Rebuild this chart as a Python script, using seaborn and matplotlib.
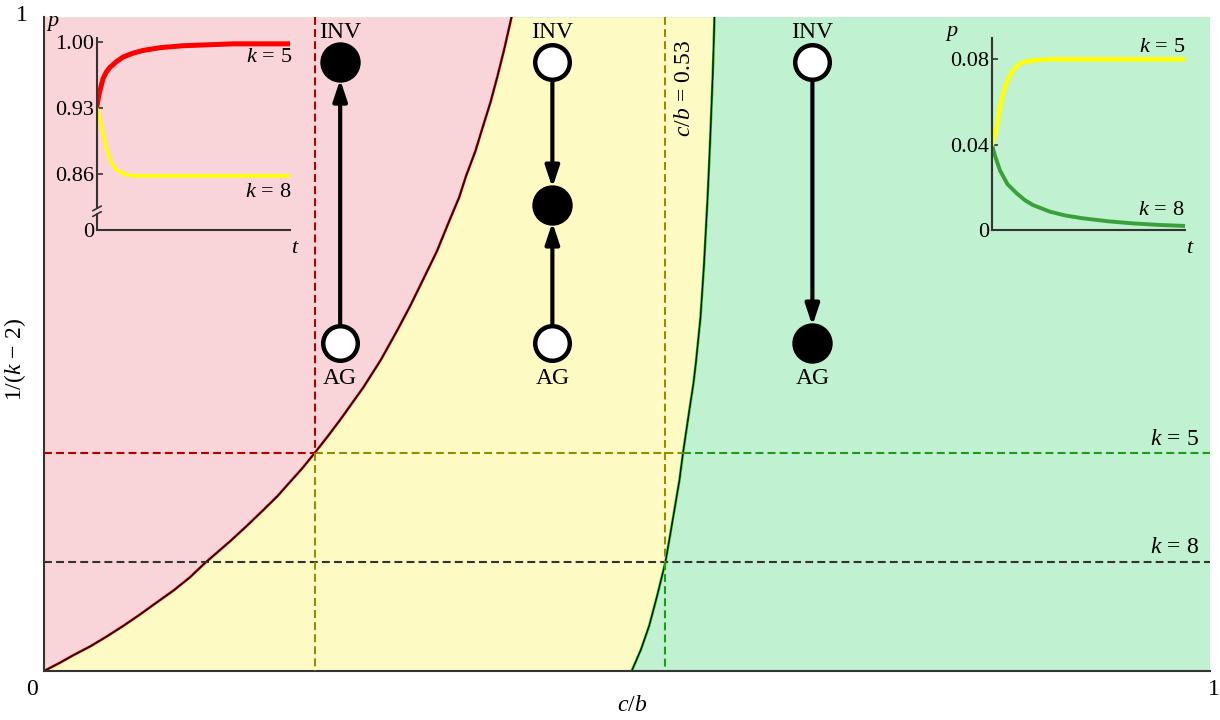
import matplotlib
matplotlib.use("Agg")
import matplotlib.pyplot as plt
import numpy as np
import pandas as pd
import seaborn as sns

# phase boundaries, c/b against 1/(k-2)
left_cb = [0.0, 0.013, 0.025, 0.040, 0.054, 0.068, 0.082, 0.096, 0.111, 0.125,
           0.138, 0.149, 0.160, 0.174, 0.188, 0.200, 0.211, 0.222, 0.232,
           0.243, 0.254, 0.264, 0.274, 0.289, 0.303, 0.314, 0.325, 0.337,
           0.348, 0.356, 0.362, 0.370, 0.376, 0.383, 0.389, 0.395, 0.401]
left_y = [0.0, 0.012, 0.024, 0.038, 0.053, 0.069, 0.086, 0.104, 0.123, 0.143,
          0.165, 0.182, 0.199, 0.222, 0.246, 0.267, 0.289, 0.311, 0.333,
          0.358, 0.384, 0.409, 0.434, 0.476, 0.521, 0.558, 0.598, 0.642,
          0.690, 0.724, 0.757, 0.795, 0.830, 0.870, 0.910, 0.953, 1.0]
right_cb = [0.504, 0.512, 0.519, 0.526, 0.533, 0.537, 0.541, 0.545, 0.548,
            0.551, 0.554, 0.557, 0.559, 0.561, 0.563, 0.5645, 0.566, 0.5675,
            0.569, 0.5703, 0.5715, 0.5725, 0.5735, 0.5743, 0.575]
right_y = [0.0, 0.033, 0.069, 0.116, 0.167, 0.208, 0.250, 0.292, 0.333,
           0.369, 0.405, 0.440, 0.470, 0.505, 0.540, 0.580, 0.620, 0.670,
           0.720, 0.770, 0.820, 0.865, 0.910, 0.955, 1.0]

group_sizes = [5, 8]

# sketch columns: c/b of each example, state heights
diagram_cb = [0.254, 0.436, 0.659]
state_inv, state_mid, state_ag = 0.931, 0.7125, 0.5015

# left inset (red region), p over t
t_red = [0.0, 0.008, 0.016, 0.031, 0.048, 0.067, 0.100, 0.135, 0.185, 0.238,
         0.330, 0.446, 0.575, 0.705, 0.85, 1.0]
p_red = [0.932, 0.942, 0.949, 0.961, 0.968, 0.973, 0.979, 0.984, 0.988, 0.991,
         0.994, 0.996, 0.997, 0.998, 0.998, 0.998]
t_yel8 = [0.0, 0.012, 0.024, 0.041, 0.055, 0.067, 0.085, 0.104, 0.130, 0.155,
          0.200, 0.275, 1.0]
p_yel8 = [0.930, 0.921, 0.910, 0.893, 0.883, 0.875, 0.868, 0.864, 0.861, 0.859,
          0.858, 0.858, 0.858]

# right inset (green region)
t_yel5 = [0.0, 0.012, 0.024, 0.041, 0.055, 0.067, 0.085, 0.102, 0.125, 0.145,
          0.175, 0.212, 0.30, 1.0]
p_yel5 = [0.040, 0.044, 0.048, 0.058, 0.063, 0.067, 0.071, 0.074, 0.0765,
          0.078, 0.079, 0.0795, 0.080, 0.080]
t_grn = [0.0, 0.015, 0.041, 0.080, 0.128, 0.170, 0.212, 0.30, 0.38, 0.47,
         0.60, 0.73, 0.86, 1.0]
p_grn = [0.040, 0.035, 0.028, 0.0215, 0.0172, 0.0140, 0.0117, 0.0086, 0.0068,
         0.0055, 0.0041, 0.0031, 0.0024, 0.0019]

PINK = "#f9d5d9"
YELLOW = "#fefac4"
GREEN = "#c0f1d0"
DRED = "#b00000"
OLIVE = "#8f8f00"
DGREEN = "#1a9e1a"
GRAY = "#333333"

sns.set_theme(style="white")
plt.rcParams["font.family"] = ["Liberation Serif", "DejaVu Serif"]
plt.rcParams["mathtext.fontset"] = "custom"
plt.rcParams["mathtext.rm"] = "Liberation Serif"
plt.rcParams["mathtext.it"] = "Liberation Serif:italic"
plt.rcParams["text.color"] = "black"
plt.rcParams["axes.labelcolor"] = "black"
plt.rcParams["ytick.color"] = "black"

fig = plt.figure(figsize=(12.2, 7.2), dpi=100)
ax = fig.add_axes([44 / 1220, 49 / 720, 1166 / 1220, 654 / 720])

# regions
ax.fill_between([0, 1], 0, 1, color=GREEN, lw=0, zorder=0)
ax.fill_betweenx(right_y, 0, right_cb, color=YELLOW, lw=0, zorder=0.5)
ax.fill_betweenx(left_y, 0, left_cb, color=PINK, lw=0, zorder=0.6)

sns.lineplot(x=left_cb, y=left_y, color="#c00000", lw=1.8, ax=ax, zorder=2)
sns.lineplot(x=left_cb, y=left_y, color="black", lw=0.8, ax=ax, zorder=2.1)
sns.lineplot(x=right_cb, y=right_y, color="#10b010", lw=1.8, ax=ax, zorder=2)
sns.lineplot(x=right_cb, y=right_y, color="black", lw=0.8, ax=ax, zorder=2.1)

# guide lines for k = 5 and k = 8
y5, y8 = [1 / (k - 2) for k in group_sizes]
x5_left = np.interp(y5, left_y, left_cb)
x5_right = np.interp(y5, right_y, right_cb)
x8_right = np.interp(y8, right_y, right_cb)
dash = (0, (3.8, 2.0))
kw = dict(lw=1.5, linestyle=dash, zorder=3)
ax.plot([0, x5_left], [y5, y5], color=DRED, **kw)
ax.plot([x5_left, x5_right], [y5, y5], color=OLIVE, **kw)
ax.plot([x5_right, 1], [y5, y5], color=DGREEN, **kw)
ax.plot([0, 1], [y8, y8], color=GRAY, **kw)
ax.plot([x5_left, x5_left], [1, y5], color=DRED, **kw)
ax.plot([x5_left, x5_left], [y5, 0], color=OLIVE, **kw)
ax.plot([x8_right, x8_right], [1, y8], color=OLIVE, **kw)
ax.plot([x8_right, x8_right], [y8, 0], color=DGREEN, **kw)

k5 = r"$k\,=\,5$"
k8 = r"$k\,=\,8$"
ax.text(0.991, y5 + 0.021, k5, ha="right", va="center", fontsize=17)
ax.text(0.991, y8 + 0.022, k8, ha="right", va="center", fontsize=17)
ax.text(x8_right + 0.016, 0.891, r"$c/b\,=\,0.53$", rotation=90,
        ha="center", va="center", fontsize=17)

# flow sketches
arrow = dict(arrowstyle="-|>,head_length=0.9,head_width=0.3", lw=3,
             color="black", shrinkA=14, shrinkB=12.5, mutation_scale=14)
cL, cM, cR = diagram_cb
ax.annotate("", xy=(cL, state_inv), xytext=(cL, state_ag), arrowprops=arrow, zorder=4)
ax.annotate("", xy=(cM, state_mid), xytext=(cM, state_inv), arrowprops=arrow, zorder=4)
ax.annotate("", xy=(cM, state_mid), xytext=(cM, state_ag), arrowprops=arrow, zorder=4)
ax.annotate("", xy=(cR, state_ag), xytext=(cR, state_inv), arrowprops=arrow, zorder=4)

stable = pd.DataFrame({"cb": [cL, cM, cR], "y": [state_inv, state_mid, state_ag]})
unstable = pd.DataFrame({"cb": [cL, cM, cM, cR], "y": [state_ag, state_inv, state_ag, state_inv]})
sns.scatterplot(data=stable, x="cb", y="y", s=680, color="black",
                edgecolor="black", linewidth=3, ax=ax, zorder=5)
sns.scatterplot(data=unstable, x="cb", y="y", s=620, color="white",
                edgecolor="black", linewidth=3.2, ax=ax, zorder=5)
for c in diagram_cb:
    ax.text(c, 0.976, "INV", ha="center", va="center", fontsize=17, zorder=6)
    ax.text(c, 0.448, "AG", ha="center", va="center", fontsize=17, zorder=6)

ax.set_xlim(0, 1)
ax.set_ylim(0, 1)
ax.set_xticks([])
ax.set_yticks([])
for side in ["top", "right"]:
    ax.spines[side].set_visible(False)
for side in ["left", "bottom"]:
    ax.spines[side].set_color(GRAY)
    ax.spines[side].set_linewidth(1.5)
ax.set_xlabel(r"$c/b$", fontsize=17)
ax.xaxis.set_label_coords(0.504, -0.036)
ax.set_ylabel(r"$1/(k\,-\,2)$", fontsize=17)
ax.yaxis.set_label_coords(-0.014, 0.476)
ax.text(-0.010, -0.029, "0", transform=ax.transAxes, ha="center", va="center", fontsize=17)
ax.text(1.003, -0.029, "1", transform=ax.transAxes, ha="center", va="center", fontsize=17)
ax.text(-0.019, 1.003, "1", transform=ax.transAxes, ha="center", va="center", fontsize=17)


def style_inset(a):
    a.set_facecolor("none")
    for side in ["top", "right"]:
        a.spines[side].set_visible(False)
    a.spines["bottom"].set_color(GRAY)
    a.spines["bottom"].set_linewidth(1.5)
    a.set_xlim(0, 1)
    a.set_xticks([])
    a.tick_params(axis="y", direction="in", length=4, width=1.2, color=GRAY,
                  pad=2, labelsize=16, left=True)
    a.set_xlabel("")
    a.set_ylabel("")
    a.text(1.026, -0.094, r"$t$", transform=a.transAxes, ha="center", va="center", fontsize=16)


# left inset with broken p axis
axl = fig.add_axes([97 / 1220, 490 / 720, 193 / 1220, 192 / 720])
p_zero = 0.8006
sns.lineplot(x=t_yel8, y=p_yel8, color="#ffff00", lw=2.5, ax=axl)
sns.lineplot(x=t_red, y=p_red, color="#ff0000", lw=3.6, ax=axl)
axl.set_ylim(p_zero, 1.0042)
axl.set_yticks([p_zero, 0.86, 0.93, 1.0])
axl.set_yticklabels(["0", "0.86", "0.93", "1.00"])
style_inset(axl)
axl.spines["left"].set_bounds(0.8235, 1.0042)
axl.spines["left"].set_color(GRAY)
axl.spines["left"].set_linewidth(1.5)
axl.plot([0, 0], [p_zero, 0.8175], color=GRAY, lw=1.5, clip_on=False)
for yb in [0.8175, 0.8235]:
    axl.plot([-0.022, 0.022], [yb - 0.0025, yb + 0.0025], color=GRAY, lw=1.2, clip_on=False)
axl.text(-0.228, 1.078, r"$p$", transform=axl.transAxes, ha="center", va="center", fontsize=16)
axl.text(1.01, 0.896, k5, transform=axl.transAxes, ha="right", va="center", fontsize=16)
axl.text(1.01, 0.193, k8, transform=axl.transAxes, ha="right", va="center", fontsize=16)

# right inset
axr = fig.add_axes([992 / 1220, 490 / 720, 193 / 1220, 192 / 720])
sns.lineplot(x=t_grn, y=p_grn, color="#3aa03a", lw=2.8, ax=axr)
sns.lineplot(x=t_yel5, y=p_yel5, color="#ffff00", lw=3.2, ax=axr)
axr.set_ylim(0, 0.09)
axr.set_yticks([0, 0.04, 0.08])
axr.set_yticklabels(["0", "0.04", "0.08"])
style_inset(axr)
axr.spines["left"].set_color(GRAY)
axr.spines["left"].set_linewidth(1.5)
axr.text(-0.207, 1.026, r"$p$", transform=axr.transAxes, ha="center", va="center", fontsize=16)
axr.text(1.0, 0.953, k5, transform=axr.transAxes, ha="right", va="center", fontsize=16)
axr.text(1.0, 0.104, k8, transform=axr.transAxes, ha="right", va="center", fontsize=16)

fig.savefig("out.png", dpi=100)
